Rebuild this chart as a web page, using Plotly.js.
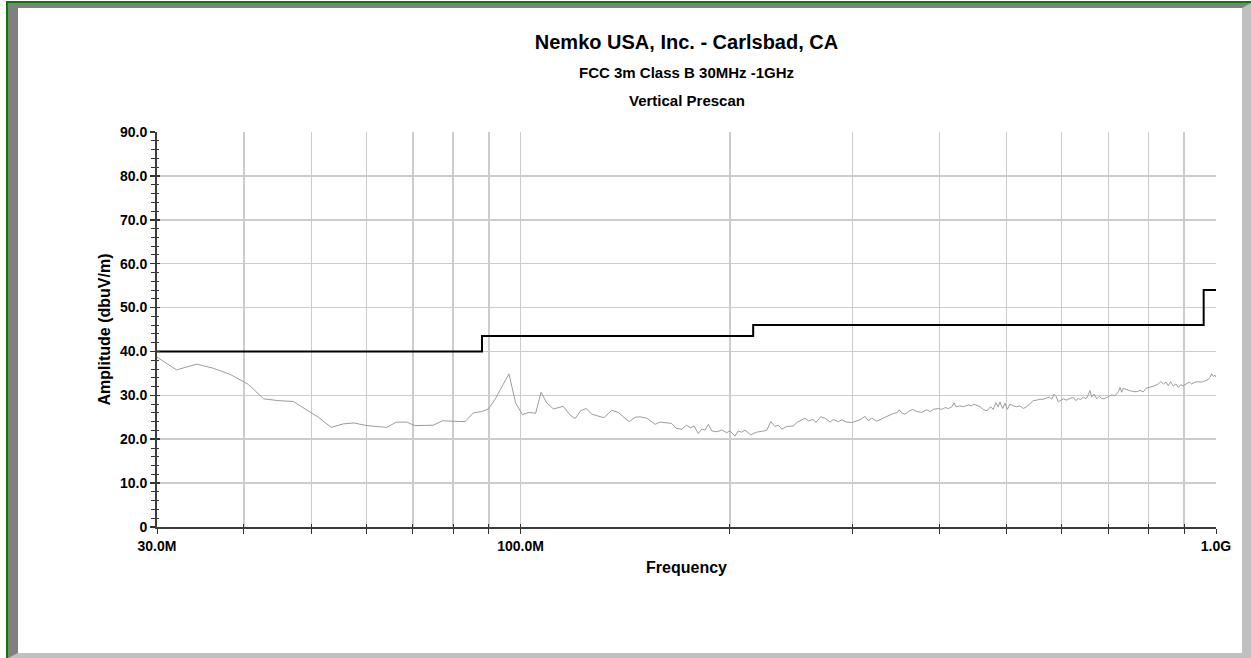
<!DOCTYPE html>
<html>
<head>
<meta charset="utf-8">
<script src="https://cdn.plot.ly/plotly-3.0.1.min.js"></script>
<style>
  html, body { margin:0; padding:0; background:#ffffff; }
  #wrap { position:relative; width:1251px; height:658px; overflow:hidden; }
  #chart { position:absolute; left:0; top:0; width:1251px; height:658px; }
  #green { position:absolute; left:6px; top:1px; width:1245px; height:657px; box-sizing:border-box;
           border-left:2px solid #008000; border-top:2px solid #008000; pointer-events:none; z-index:10; }
  #bevel { position:absolute; left:8px; top:3px; width:1243px; height:655px; box-sizing:border-box;
           border-left:10px solid #808080; border-top:5px solid #808080;
           border-right:9px solid #c0c0c0; border-bottom:5px solid #c0c0c0; pointer-events:none; z-index:10; }
</style>
</head>
<body>
<div id="wrap">
  <div id="chart"></div>
  <div id="green"></div>
  <div id="bevel"></div>
</div>
<script>
// Measured prescan trace (frequency in MHz, amplitude in dBuV/m)
const freqMHz = [
  30.0, 32.0, 34.2, 36.1, 38.2, 40.6, 42.7, 44.8, 47.1, 51.2, 53.4, 55.6, 57.6, 60.1, 64.2, 66.3,
  68.6, 70.5, 74.9, 77.2, 83.2, 85.5, 87.9, 89.9, 91.9, 96.2, 98.4, 100.6, 102.8, 105.1, 107.0,
  109.0, 111.5, 115.2, 117.8, 119.8, 122.0, 124.2, 126.6, 129.4, 131.8, 135.2, 138.2, 141.3, 143.3,
  146.1, 148.5, 151.8, 156.1, 158.7, 164.9, 167.3, 170.5, 173.3, 175.3, 177.6, 180.1, 182.2, 184.2,
  186.2, 188.3, 191.5, 194.7, 197.9, 200.0, 203.4, 205.6, 207.9, 210.2, 214.2, 218.5, 225.9, 228.9,
  232.2, 234.7, 237.4, 241.4, 246.7, 249.5, 256.4, 259.2, 263.6, 265.9, 270.1, 274.0, 278.6, 281.6,
  286.3, 289.6, 294.4, 299.3, 307.6, 312.8, 316.3, 319.9, 325.2, 332.4,
  339.9, 343.8, 347.5, 350.5, 353.2, 357.1, 361.0, 366.3, 371.2, 377.4, 383.7, 388.0, 392.2, 398.8,
  403.3, 407.8, 412.3, 417.0, 420.1, 422.8, 428.3, 433.0, 440.3, 445.2, 448.7, 453.6, 457.7, 462.7,
  466.8, 470.3, 474.0, 478.1, 482.5, 486.2, 489.0, 493.4, 497.2, 501.1, 505.5, 511.0, 516.8, 522.5,
  528.3, 534.2, 540.1, 546.0, 552.2, 558.3, 564.3, 570.8, 575.7, 580.4, 584.9, 588.8, 593.3, 596.6,
  603.3, 610.0, 616.6, 623.4, 628.9, 633.8, 638.8, 644.4, 650.2, 655.1, 658.9, 662.6, 667.7, 673.7,
  679.6, 684.9, 690.1, 696.3, 702.2, 708.0, 715.7, 723.6, 727.7, 731.8, 735.7, 742.3, 750.5, 759.1,
  767.3, 777.6, 786.1, 793.2, 801.9, 808.2, 817.2, 826.2, 832.9, 840.1, 847.6, 854.0, 860.7, 868.2,
  875.9, 882.5, 889.5, 897.2, 907.4, 915.4, 922.6, 932.8, 943.0, 953.6, 964.3, 974.8, 980.2, 985.9,
  991.2, 996.7, 1000.0
];
const amplitude = [
  38.7, 35.8, 37.1, 36.2, 34.8, 32.5, 29.2, 28.8, 28.6, 25.0, 22.7, 23.5, 23.7, 23.1, 22.7, 23.9,
  23.9, 23.1, 23.2, 24.2, 24.0, 26.0, 26.3, 26.9, 29.1, 34.9, 28.2, 25.6, 26.1, 25.9, 30.7,
  28.3, 26.9, 27.5, 25.5, 24.7, 26.5, 27.0, 25.7, 25.3, 24.9, 26.6, 26.1, 24.8, 24.0,
  25.0, 25.1, 24.8, 23.4, 23.9, 23.6, 22.5, 22.3, 23.2, 22.6, 23.0, 21.3, 22.3, 22.1,
  23.4, 21.9, 21.7, 22.1, 21.5, 21.9, 20.7, 21.9, 21.6, 22.1, 21.0, 21.6, 22.0, 24.0,
  22.9, 23.2, 22.3, 22.9, 23.0, 23.8, 24.8, 24.2, 24.5, 23.8, 25.1, 24.8, 23.9, 24.5,
  24.0, 24.4, 23.9, 23.8, 24.4, 25.2, 24.2, 24.8, 24.1, 24.8,
  25.4, 25.9, 26.0, 26.7, 26.0, 25.7, 26.3, 26.8, 26.3, 26.1, 26.7, 26.3, 26.8, 27.0,
  26.8, 27.2, 27.0, 27.4, 28.3, 27.4, 27.6, 27.4, 27.8, 27.6, 28.0, 27.6, 27.4, 26.8,
  26.5, 26.7, 27.4, 26.8, 28.3, 27.4, 28.5, 27.0, 28.2, 26.8, 28.0, 27.6, 27.4, 27.6,
  27.0, 27.4, 28.2, 28.8, 28.9, 29.1, 29.1, 29.3, 29.6, 29.1, 30.3, 29.8, 28.5, 28.8,
  29.2, 28.9, 29.3, 29.5, 28.8, 29.3, 29.0, 29.6, 29.2, 30.1, 31.1, 29.6, 30.3, 29.2,
  29.8, 29.3, 29.2, 29.5, 29.8, 30.1, 29.9, 30.8, 31.8, 30.7, 31.6, 31.3, 31.1, 30.9,
  30.8, 31.1, 30.8, 31.6, 31.8, 32.1, 32.2, 32.6, 33.1, 32.6, 33.0, 32.2, 33.1, 32.1,
  32.6, 31.8, 32.4, 32.2, 32.6, 33.0, 32.6, 33.0, 33.1, 33.0, 33.3, 33.6, 34.1, 34.9,
  34.3, 34.6, 34.1
];
// FCC Class B 3 m limit (step line)
const limitFreq = [30, 88, 216, 960, 1000];
const limitLevel = [40, 43.5, 46, 54, 54];

const yTickVals = [0, 10, 20, 30, 40, 50, 60, 70, 80, 90];
const yTickText = ['0', '10.0', '20.0', '30.0', '40.0', '50.0', '60.0', '70.0', '80.0', '90.0'];
const xTickVals = [30, 40, 50, 60, 70, 80, 90, 100, 200, 300, 400, 500, 600, 700, 800, 900, 1000];
const xTickText = ['30.0M', '', '', '', '', '', '', '100.0M', '', '', '', '', '', '', '', '', '1.0G'];

const titleText = 'Nemko USA, Inc. - Carlsbad, CA';
const subTitle1 = 'FCC 3m Class B 30MHz -1GHz';
const subTitle2 = 'Vertical Prescan';

const FONT = 'Liberation Sans, Arial, Helvetica, sans-serif';

const traces = [
  {
    x: freqMHz, y: amplitude, type: 'scatter', mode: 'lines',
    line: { color: '#9c9c9c', width: 1 }, hoverinfo: 'skip', showlegend: false
  },
  {
    x: limitFreq, y: limitLevel, type: 'scatter', mode: 'lines',
    line: { color: '#000000', width: 2, shape: 'hv' }, hoverinfo: 'skip', showlegend: false
  },
  { // carrier for the inner tick marks (no points)
    x: [], y: [], xaxis: 'x2', yaxis: 'y2', type: 'scatter', mode: 'lines',
    hoverinfo: 'skip', showlegend: false
  }
];

const layout = {
  width: 1251, height: 658,
  margin: { l: 157, r: 35, t: 132, b: 131, pad: 0 },
  paper_bgcolor: '#ffffff', plot_bgcolor: '#ffffff',
  showlegend: false, hovermode: false,
  font: { family: FONT, color: '#000000' },
  title: {
    text: '<b>' + titleText + '</b>',
    font: { family: FONT, size: 20, color: '#000000' },
    xref: 'paper', x: 0.5, xanchor: 'center',
    yref: 'container', y: 1 - 42 / 658, yanchor: 'middle'
  },
  annotations: [
    { text: '<b>' + subTitle1 + '</b>', xref: 'paper', yref: 'paper', x: 0.5, y: (527 - 72) / 395,
      xanchor: 'center', yanchor: 'middle', showarrow: false, font: { family: FONT, size: 15, color: '#000000' } },
    { text: '<b>' + subTitle2 + '</b>', xref: 'paper', yref: 'paper', x: 0.5, y: (527 - 100) / 395,
      xanchor: 'center', yanchor: 'middle', showarrow: false, font: { family: FONT, size: 15, color: '#000000' } }
  ],
  xaxis: {
    type: 'log', range: [Math.log10(30), Math.log10(1000)],
    tickmode: 'array', tickvals: xTickVals, ticktext: xTickText,
    ticks: 'outside', ticklen: 5, tickwidth: 1, tickcolor: '#333333',
    tickfont: { family: FONT, size: 14, color: '#000000', weight: 'bold' },
    showgrid: true, gridcolor: '#cccccc', gridwidth: 1.5,
    showline: true, linecolor: '#3c3c3c', linewidth: 2,
    zeroline: false, automargin: false,
    title: { text: '<b>Frequency</b>', font: { family: FONT, size: 16, color: '#000000' }, standoff: 9 }
  },
  yaxis: {
    range: [0, 90],
    tickmode: 'array', tickvals: yTickVals, ticktext: yTickText,
    ticks: 'outside', ticklen: 5, tickwidth: 1.5, tickcolor: '#333333',
    tickfont: { family: FONT, size: 14, color: '#000000', weight: 'bold' },
    minor: { dtick: 2, ticks: 'outside', ticklen: 4, tickcolor: '#333333', tickwidth: 1, showgrid: false },
    showgrid: true, gridcolor: '#cccccc', gridwidth: 1.5,
    showline: true, linecolor: '#3c3c3c', linewidth: 2,
    zeroline: false, automargin: false,
    title: { text: '<b>Amplitude (dbuV/m)</b>', font: { family: FONT, size: 16, color: '#000000' }, standoff: 5 }
  },
  xaxis2: {
    type: 'log', range: [Math.log10(30), Math.log10(1000)], overlaying: 'x', side: 'bottom',
    tickmode: 'array', tickvals: xTickVals, ticktext: xTickText.map(() => ''),
    ticks: 'inside', ticklen: 3, tickwidth: 1, tickcolor: '#333333',
    showgrid: false, showline: false, zeroline: false, automargin: false
  },
  yaxis2: {
    range: [0, 90], overlaying: 'y', side: 'left',
    tickmode: 'array', tickvals: yTickVals, ticktext: yTickText.map(() => ''),
    ticks: 'inside', ticklen: 3, tickwidth: 1.5, tickcolor: '#333333',
    minor: { dtick: 2, ticks: 'inside', ticklen: 2, tickcolor: '#333333', tickwidth: 1, showgrid: false },
    showgrid: false, showline: false, zeroline: false, automargin: false
  }
};

Plotly.newPlot('chart', traces, layout, { displayModeBar: false, staticPlot: true });
</script>
</body>
</html>
